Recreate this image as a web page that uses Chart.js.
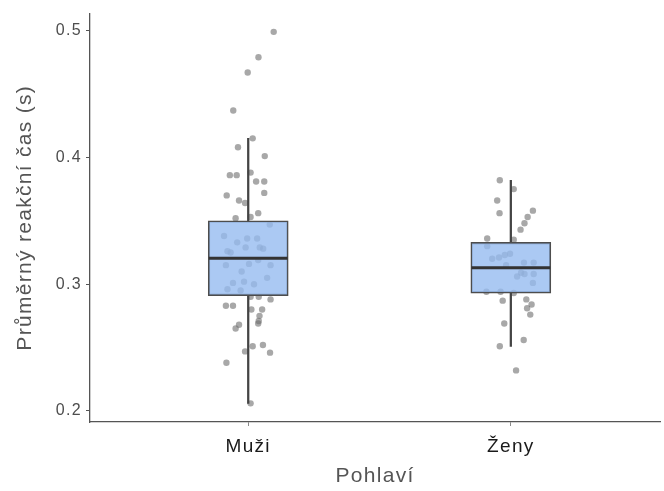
<!DOCTYPE html>
<html lang="cs">
<head>
<meta charset="utf-8">
<script src="https://cdn.jsdelivr.net/npm/chart.js@4.4.1/dist/chart.umd.min.js"></script>
<style>
  html, body { margin: 0; padding: 0; background: #fff; }
  #wrap { width: 664px; height: 491px; }
</style>
</head>
<body>
<div id="wrap"><canvas id="graf"></canvas></div>
<script>
// skupiny na ose x
const skupiny = ['Muži', 'Ženy'];

// boxplot: dolní vous, Q1, medián, Q3, horní vous
const muziBox = [0.206, 0.291, 0.3205, 0.350, 0.415];
const zenyBox = [0.251, 0.293, 0.313, 0.333, 0.382];

// jednotlivá měření (průměrný reakční čas v s) a jejich rozptyl do stran
const muziCasy = [0.499, 0.479, 0.467, 0.437, 0.415, 0.408, 0.401, 0.386, 0.386, 0.388,
  0.381, 0.381, 0.372, 0.370, 0.366, 0.364, 0.356, 0.352, 0.353, 0.347,
  0.338, 0.333, 0.336, 0.336, 0.329, 0.329, 0.328, 0.326, 0.325, 0.319,
  0.315, 0.316, 0.315, 0.310, 0.305, 0.301, 0.302, 0.300, 0.296, 0.295,
  0.290, 0.290, 0.288, 0.283, 0.283, 0.280, 0.280, 0.275, 0.271, 0.269,
  0.268, 0.265, 0.251, 0.252, 0.247, 0.246, 0.238, 0.206];
const muziJitter = [0.097, 0.039, -0.002, -0.057, 0.017, -0.039, 0.063, -0.070, -0.044, 0.009,
  0.030, 0.061, 0.061, -0.082, -0.035, -0.012, 0.038, -0.048, 0.009, 0.082,
  -0.092, -0.042, -0.004, 0.034, -0.010, 0.044, 0.057, -0.079, -0.067, 0.038,
  -0.085, 0.003, 0.085, -0.025, 0.072, -0.058, -0.016, 0.022, -0.079, -0.029,
  0.009, 0.040, 0.085, -0.085, -0.058, 0.012, 0.053, 0.043, 0.040, 0.038,
  -0.035, -0.048, 0.017, 0.056, -0.012, 0.083, -0.083, 0.009];

const zenyCasy = [0.382, 0.375, 0.366, 0.356, 0.358, 0.353, 0.348, 0.343, 0.336, 0.335,
  0.330, 0.320, 0.321, 0.323, 0.324, 0.315, 0.317, 0.317, 0.306, 0.309,
  0.308, 0.308, 0.301, 0.294, 0.294, 0.293, 0.287, 0.288, 0.284, 0.281,
  0.276, 0.269, 0.256, 0.251, 0.232];
const zenyJitter = [-0.042, 0.011, -0.052, -0.043, 0.084, 0.064, 0.052, 0.037, -0.090, 0.011,
  -0.090, -0.071, -0.045, -0.023, -0.003, -0.018, 0.050, 0.087, 0.024, 0.039,
  0.052, 0.087, 0.084, -0.093, -0.039, 0.011, -0.031, 0.059, 0.079, 0.062,
  0.074, -0.025, 0.049, -0.042, 0.020];

const yTicks = [0.2, 0.3, 0.4, 0.5];

const boxy = [muziBox, zenyBox];
const body = [
  ...muziCasy.map((v, i) => ({ x: 1 + muziJitter[i], y: v })),
  ...zenyCasy.map((v, i) => ({ x: 2 + zenyJitter[i], y: v }))
];

const pulSirka = 0.15; // polovina šířky krabice v jednotkách osy x

// vousy jako úzké plovoucí sloupce nad a pod krabicí
const vousy = [];
boxy.forEach((b, i) => {
  vousy.push({ x: i + 1, y: [b[0], b[1]] });
  vousy.push({ x: i + 1, y: [b[3], b[4]] });
});

// mediány jako krátké úsečky, oddělené mezerou
const mediany = [];
boxy.forEach((b, i) => {
  mediany.push({ x: i + 1 - pulSirka, y: b[2] });
  mediany.push({ x: i + 1 + pulSirka, y: b[2] });
  mediany.push({ x: i + 1.5, y: null });
});

// trochu širší písmo u všech popisků
const rozestup = {
  id: 'rozestup',
  beforeDraw(chart) { chart.ctx.letterSpacing = '1.3px'; }
};

Chart.defaults.font.family = "'Liberation Sans', Arial, sans-serif";

const ctx = document.getElementById('graf').getContext('2d');
new Chart(ctx, {
  data: {
    datasets: [
      {
        type: 'line',
        data: mediany,
        borderColor: '#333333',
        borderWidth: 3,
        pointRadius: 0,
        spanGaps: false,
        order: 0
      },
      {
        type: 'bar',
        data: boxy.map((b, i) => ({ x: i + 1, y: [b[1], b[3]] })),
        backgroundColor: 'rgba(150, 188, 240, 0.8)',
        borderColor: '#4d4d4d',
        borderWidth: 1.5,
        borderSkipped: false,
        barThickness: 80,
        grouped: false,
        order: 1
      },
      {
        type: 'bar',
        data: vousy,
        backgroundColor: '#444444',
        barThickness: 1.6,
        grouped: false,
        order: 2
      },
      {
        type: 'scatter',
        data: body,
        backgroundColor: 'rgba(110, 110, 110, 0.6)',
        borderWidth: 0,
        pointRadius: 3.2,
        order: 3
      }
    ]
  },
  options: {
    responsive: true,
    maintainAspectRatio: false,
    animation: false,
    layout: { padding: { top: 13, right: 0, left: 0, bottom: 0 } },
    plugins: {
      legend: { display: false },
      tooltip: { enabled: false }
    },
    scales: {
      x: {
        type: 'linear',
        offset: false,
        min: 0.3975,
        max: 2.568,
        afterBuildTicks: (scale) => { scale.ticks = [{ value: 1 }, { value: 2 }]; },
        afterFit: (scale) => { scale.height = 69; },
        ticks: {
          callback: (v) => skupiny[v - 1],
          color: '#1a1a1a',
          font: { size: 19 },
          padding: 9
        },
        grid: { offset: false, drawOnChartArea: false, drawTicks: true, tickLength: 4, color: '#8a8a8a' },
        border: { display: true, color: '#555555', width: 1.3 },
        title: {
          display: true,
          text: 'Pohlaví',
          color: '#555555',
          font: { size: 21 },
          padding: { top: 0, bottom: 2 }
        }
      },
      y: {
        type: 'linear',
        min: 0.1913,
        max: 0.5134,
        afterBuildTicks: (scale) => { scale.ticks = yTicks.map(v => ({ value: v })); },
        afterFit: (scale) => { scale.width = 90; },
        ticks: {
          callback: (v) => v.toFixed(1),
          color: '#4d4d4d',
          font: { size: 16 },
          padding: 4
        },
        grid: { drawOnChartArea: false, drawTicks: true, tickLength: 4, color: '#555555' },
        border: { display: true, color: '#555555', width: 1.3 },
        title: {
          display: true,
          text: 'Průměrný reakční čas (s)',
          color: '#555555',
          font: { size: 21 },
          padding: { top: 13, bottom: 0 }
        }
      }
    }
  },
  plugins: [rozestup]
});
</script>
</body>
</html>
